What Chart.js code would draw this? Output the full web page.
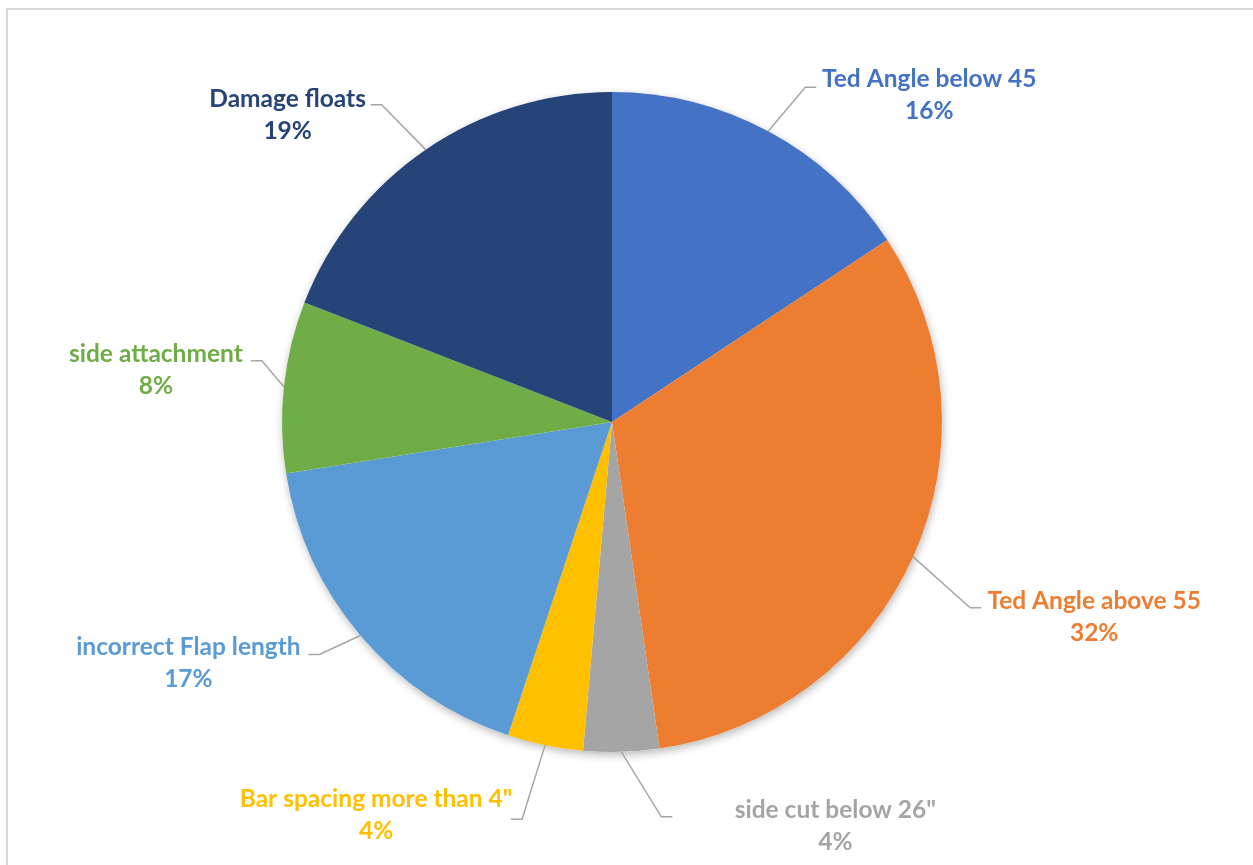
<!DOCTYPE html>
<html>
<head>
<meta charset="utf-8">
<script src="https://cdn.jsdelivr.net/npm/chart.js@4"></script>
<style>
  html, body { margin: 0; padding: 0; background: #fff; overflow: hidden; }
  #wrap { width: 1253px; height: 865px; position: relative; }
</style>
</head>
<body>
<div id="wrap"><canvas id="pieChart" width="1253" height="865"></canvas></div>
<script>
// slice data, clockwise from 12 o'clock
const categories = [
  'Ted Angle below 45',
  'Ted Angle above 55',
  'side cut below 26"',
  'Bar spacing more than 4"',
  'incorrect Flap length',
  'side attachment',
  'Damage floats'
];
const shares = [15.7, 32.0, 3.7, 3.7, 17.4, 8.4, 19.1];
const sliceColors = ['#4472C4', '#ED7D31', '#A5A5A5', '#FFC000', '#5B9BD5', '#70AD47', '#264478'];

// label placement, relative to the slice's outer mid point
const elbowOffsets = [[37, -44], [57, 51], [40, 65], [-23, 74], [-41, 19], [-22, -26], [-44, -45]];
const textOffsets = [[161, -52], [181, 44], [214, 58], [-169, 54], [-172, 12], [-128, -33], [-138, -51]];

const LABEL_FONT = 'bold 24.5px Lato, "Open Sans", sans-serif';
const LINE_GAP = 32;

const frame = {
  id: 'frame',
  beforeDraw(chart) {
    const c = chart.ctx;
    c.save();
    c.strokeStyle = '#D9D9D9';
    c.lineWidth = 2;
    c.strokeRect(7, 9, 1300, 900);
    c.restore();
  },
  beforeDatasetsDraw(chart) {
    // soft drop shadow under the pie
    const arc = chart.getDatasetMeta(0).data[0];
    if (!arc) return;
    const { x, y, outerRadius } = arc.getProps(['x', 'y', 'outerRadius'], true);
    const c = chart.ctx;
    c.save();
    c.shadowColor = 'rgba(0,0,0,0.28)';
    c.shadowBlur = 9;
    c.shadowOffsetX = 1;
    c.shadowOffsetY = 3;
    c.fillStyle = '#fff';
    c.beginPath();
    c.arc(x, y, outerRadius, 0, Math.PI * 2);
    c.fill();
    c.restore();
  }
};

const outsideLabels = {
  id: 'outsideLabels',
  afterDatasetsDraw(chart) {
    const c = chart.ctx;
    const data = chart.data.datasets[0].data;
    const total = data.reduce((a, b) => a + b, 0);
    chart.getDatasetMeta(0).data.forEach((arc, i) => {
      const p = arc.getProps(['x', 'y', 'startAngle', 'endAngle', 'outerRadius'], true);
      const mid = (p.startAngle + p.endAngle) / 2;
      const ax = p.x + Math.cos(mid) * p.outerRadius;
      const ay = p.y + Math.sin(mid) * p.outerRadius;
      const ex = ax + elbowOffsets[i][0];
      const ey = ay + elbowOffsets[i][1];
      const dir = elbowOffsets[i][0] >= 0 ? 1 : -1;

      // leader line
      c.save();
      c.strokeStyle = '#A6A6A6';
      c.lineWidth = 1.5;
      c.beginPath();
      c.moveTo(ax, ay);
      c.lineTo(ex, ey);
      c.lineTo(ex + dir * 11, ey);
      c.stroke();

      // label text
      const tx = ax + textOffsets[i][0];
      const ty = ay + textOffsets[i][1];
      c.font = LABEL_FONT;
      c.fillStyle = sliceColors[i];
      c.textAlign = 'center';
      c.textBaseline = 'middle';
      c.fillText(chart.data.labels[i], tx, ty);
      c.fillText(Math.round(data[i] / total * 100) + '%', tx, ty + LINE_GAP);
      c.restore();
    });
  }
};

const ctx = document.getElementById('pieChart').getContext('2d');
const chart = new Chart(ctx, {
  type: 'pie',
  data: {
    labels: categories,
    datasets: [{
      data: shares,
      backgroundColor: sliceColors,
      borderWidth: 0
    }]
  },
  options: {
    responsive: false,
    animation: false,
    layout: { padding: { left: 282, right: 311, top: 92, bottom: 113 } },
    plugins: {
      legend: { display: false },
      tooltip: { enabled: false }
    }
  },
  plugins: [frame, outsideLabels]
});
</script>
</body>
</html>
